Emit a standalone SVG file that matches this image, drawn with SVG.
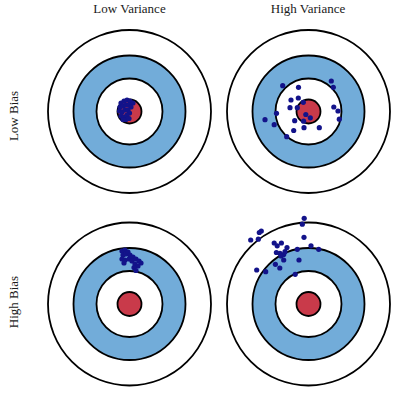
<svg xmlns="http://www.w3.org/2000/svg" xmlns:xlink="http://www.w3.org/1999/xlink" width="400" height="394" viewBox="0 0 400 394">
<style>
.ring{stroke:#000;stroke-width:1.8}
.white{fill:#fff}
.blue{fill:#72acd9}
.bull{fill:#c93a4a}
.dots circle{fill:#13138a;stroke:none}
.lbl{font-family:"Liberation Serif","Times New Roman",serif;font-size:13px;fill:#1a1a1a;text-anchor:middle}
</style>
<defs>
<g id="target">
<circle class="ring white" cx="0" cy="0" r="81.5"/>
<circle class="ring blue" cx="0" cy="0" r="56"/>
<circle class="ring white" cx="0" cy="0" r="33"/>
<circle class="ring bull" cx="0" cy="0" r="12"/>
</g>
</defs>
<rect width="400" height="394" fill="#fff"/>
<g id="labels">
<text class="lbl" x="129.5" y="12.7">Low Variance</text>
<text class="lbl" x="308" y="12.7">High Variance</text>
<text class="lbl" transform="translate(18,116) rotate(-90)">Low Bias</text>
<text class="lbl" transform="translate(18,302) rotate(-90)">High Bias</text>
</g>
<g id="target-low-bias-low-variance">
<use xlink:href="#target" x="129.5" y="111.5"/>
<g class="dots">
<circle cx="121" cy="103" r="2.6"/><circle cx="124" cy="101" r="2.6"/><circle cx="127" cy="100" r="2.6"/><circle cx="130" cy="101" r="2.6"/><circle cx="133" cy="103" r="2.6"/>
<circle cx="120" cy="107" r="2.6"/><circle cx="123" cy="106" r="2.6"/><circle cx="126" cy="105" r="2.6"/><circle cx="129" cy="105" r="2.6"/><circle cx="131" cy="107" r="2.6"/>
<circle cx="119.5" cy="111" r="2.6"/><circle cx="122" cy="112" r="2.6"/><circle cx="125" cy="110" r="2.6"/><circle cx="128" cy="110" r="2.6"/><circle cx="129.5" cy="113" r="2.6"/>
<circle cx="121" cy="116" r="2.6"/><circle cx="124" cy="117" r="2.6"/><circle cx="127" cy="115" r="2.6"/><circle cx="126" cy="119.5" r="2.6"/><circle cx="129" cy="118.5" r="2.6"/><circle cx="123" cy="119.5" r="2.6"/>
</g>
</g>
<g id="target-low-bias-high-variance">
<use xlink:href="#target" x="308.5" y="111.5"/>
<g class="dots">
<circle cx="282.7" cy="85.7" r="2.6"/><circle cx="298.5" cy="87.3" r="2.6"/><circle cx="331.3" cy="81" r="2.6"/><circle cx="333.3" cy="87.3" r="2.6"/>
<circle cx="298.3" cy="98" r="2.6"/><circle cx="291" cy="100" r="2.6"/><circle cx="303.3" cy="102.3" r="2.6"/><circle cx="290" cy="107.7" r="2.6"/>
<circle cx="297.3" cy="107.7" r="2.6"/><circle cx="333.8" cy="107" r="2.6"/><circle cx="338" cy="111" r="2.6"/><circle cx="276.5" cy="113.3" r="2.6"/>
<circle cx="305.8" cy="114.5" r="2.6"/><circle cx="310.3" cy="117.8" r="2.6"/><circle cx="265" cy="119.7" r="2.6"/><circle cx="294.7" cy="120.7" r="2.6"/>
<circle cx="303.6" cy="121.2" r="2.6"/><circle cx="339.3" cy="119.2" r="2.6"/><circle cx="274.2" cy="124.7" r="2.6"/><circle cx="304" cy="127.7" r="2.6"/>
<circle cx="319.3" cy="127.7" r="2.6"/><circle cx="293.7" cy="130.5" r="2.6"/><circle cx="286.7" cy="136.7" r="2.6"/>
</g>
</g>
<g id="target-high-bias-low-variance">
<use xlink:href="#target" x="129.5" y="304"/>
<g class="dots">
<circle cx="122" cy="251" r="2.6"/><circle cx="125" cy="250" r="2.6"/><circle cx="123" cy="255" r="2.6"/><circle cx="126" cy="254" r="2.6"/><circle cx="122" cy="259" r="2.6"/>
<circle cx="125" cy="260" r="2.6"/><circle cx="128" cy="252" r="2.6"/><circle cx="130" cy="255" r="2.6"/><circle cx="129" cy="259" r="2.6"/><circle cx="133" cy="257" r="2.6"/>
<circle cx="132" cy="261" r="2.6"/><circle cx="136" cy="259" r="2.6"/><circle cx="139" cy="261" r="2.6"/><circle cx="141" cy="263" r="2.6"/><circle cx="135" cy="264" r="2.6"/>
<circle cx="138" cy="266" r="2.6"/><circle cx="134" cy="267.5" r="2.6"/><circle cx="136" cy="270.5" r="2.6"/><circle cx="124" cy="263" r="2.6"/>
</g>
</g>
<g id="target-high-bias-high-variance">
<use xlink:href="#target" x="308.5" y="304"/>
<g class="dots">
<circle cx="304.2" cy="218.3" r="2.6"/><circle cx="302.3" cy="224.2" r="2.6"/><circle cx="261.3" cy="231" r="2.6"/><circle cx="259.3" cy="232.5" r="2.6"/>
<circle cx="250.7" cy="240" r="2.6"/><circle cx="258.3" cy="239.2" r="2.6"/><circle cx="304" cy="237.3" r="2.6"/><circle cx="274.2" cy="243" r="2.6"/>
<circle cx="281.4" cy="243" r="2.6"/><circle cx="277.2" cy="245.8" r="2.6"/><circle cx="287" cy="247.5" r="2.6"/><circle cx="311" cy="245.8" r="2.6"/>
<circle cx="318.7" cy="249.3" r="2.6"/><circle cx="297.3" cy="249.3" r="2.6"/><circle cx="276.4" cy="252.5" r="2.6"/><circle cx="280" cy="253.3" r="2.6"/>
<circle cx="283.7" cy="254.6" r="2.6"/><circle cx="285" cy="251.7" r="2.6"/><circle cx="281" cy="256" r="2.6"/><circle cx="283.7" cy="260" r="2.6"/>
<circle cx="299" cy="260" r="2.6"/><circle cx="275.4" cy="264.3" r="2.6"/><circle cx="279.8" cy="268" r="2.6"/><circle cx="256.7" cy="270" r="2.6"/>
<circle cx="265.7" cy="271.7" r="2.6"/><circle cx="295.2" cy="274.3" r="2.6"/>
</g>
</g>
</svg>
